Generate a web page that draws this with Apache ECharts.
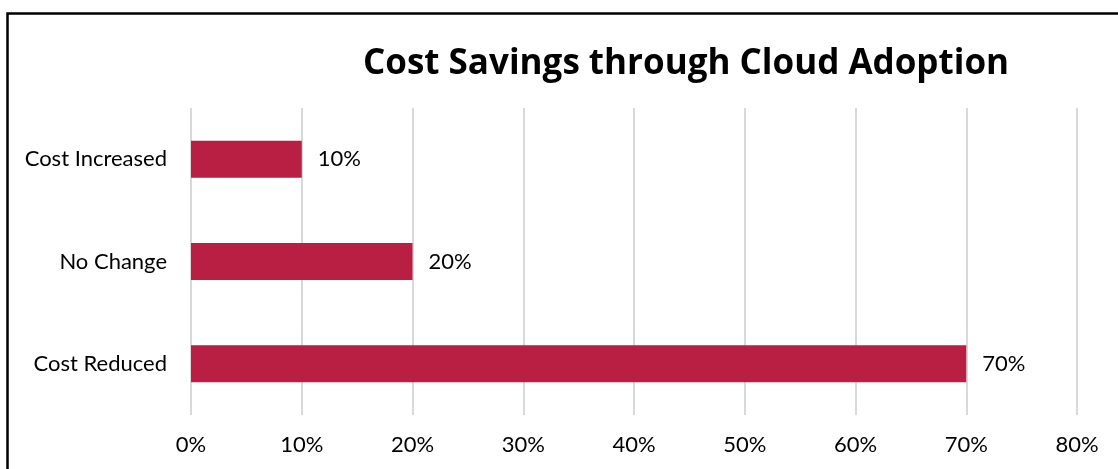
<!DOCTYPE html>
<html><head><meta charset="utf-8">
<script src="https://cdn.jsdelivr.net/npm/echarts@6/dist/echarts.min.js"></script>
<style>html,body{margin:0;padding:0;background:#fff}#c{width:1118px;height:469px}</style>
</head><body><div id="c"></div>
<script>
const categories = ['Cost Reduced', 'No Change', 'Cost Increased'];
const values = [70, 20, 10];
const xTicks = [0, 10, 20, 30, 40, 50, 60, 70, 80];
const titleText = 'Cost Savings through Cloud Adoption';

const chart = echarts.init(document.getElementById('c'));
const FONT = 'Lato, "Open Sans", sans-serif';
chart.setOption({
  animation: false,
  graphic: [{
    type: 'rect', left: 5, top: 11, silent: true,
    shape: { x: 0, y: 0, width: 1300, height: 700 },
    style: { fill: 'none', stroke: '#000', lineWidth: 2.5 }
  }],
  title: {
    text: titleText, left: 681, top: 42, textAlign: 'center',
    textStyle: { fontFamily: '"Open Sans", sans-serif', fontWeight: 'bold', fontSize: 35, color: '#000' }
  },
  grid: { left: 191, right: 41, top: 108, bottom: 54, containLabel: false },
  xAxis: {
    type: 'value', min: 0, max: 80, interval: 10,
    axisLine: { show: false }, axisTick: { show: false },
    splitLine: { show: true, lineStyle: { color: '#d9d9d9', width: 2 } },
    axisLabel: { fontFamily: FONT, fontSize: 22, color: '#000', margin: 19,
      formatter: v => xTicks.includes(v) ? v + '%' : '' }
  },
  yAxis: {
    type: 'category', data: categories,
    axisLine: { show: false }, axisTick: { show: false },
    axisLabel: { fontFamily: FONT, fontSize: 22, color: '#000', margin: 24 }
  },
  series: [{
    type: 'bar', data: values, barWidth: 37,
    itemStyle: { color: '#B91F42' },
    label: { show: true, position: 'right', distance: 16, formatter: '{c}%',
      fontFamily: FONT, fontSize: 22, color: '#000' }
  }]
});
</script></body></html>
